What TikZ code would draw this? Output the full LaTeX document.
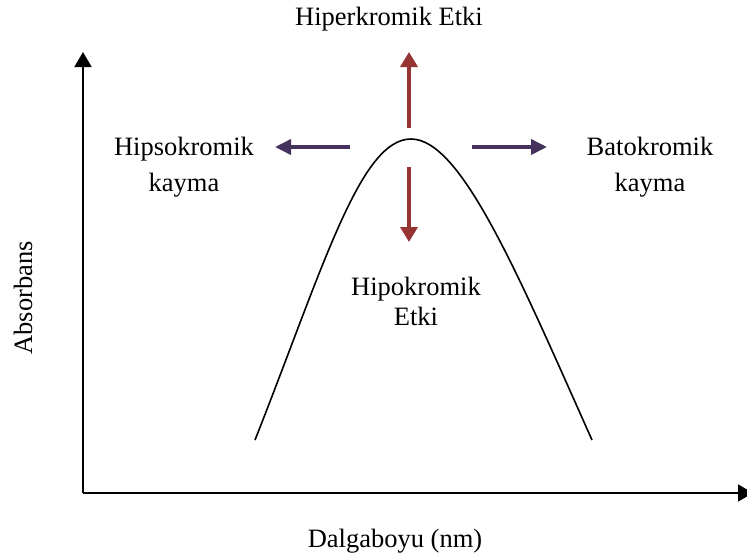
\documentclass[tikz,border=0pt]{standalone}
\usepackage{fontspec}
\setmainfont{Liberation Serif}
\usetikzlibrary{arrows.meta}
\definecolor{shiftred}{RGB}{150,52,52}
\definecolor{shiftpurple}{RGB}{68,50,92}

\begin{document}
\begin{tikzpicture}[x=1pt, y=-1pt,
    every node/.style={inner sep=0pt, font=\fontsize{26.5}{30}\selectfont},
    axis/.style={line width=1.8pt, -{Triangle[length=15pt,width=17pt]}},
    redarrow/.style={line width=3.6pt, shiftred, -{Triangle[length=15pt,width=17pt]}},
    bluearrow/.style={line width=3.6pt, shiftpurple, -{Triangle[length=16pt,width=15pt]}}]
    \useasboundingbox (0,0) rectangle (747,558);

    \coordinate (O)     at ( 83, 493);
    \coordinate (ytop)  at ( 83,  52);
    \coordinate (xend)  at (753, 493);
    \coordinate (cs)    at (255, 440);
    \coordinate (peak)  at (411, 139);
    \coordinate (ce)    at (592, 440);

    \coordinate (up1)   at (409, 128);
    \coordinate (up2)   at (409,  52);
    \coordinate (dn1)   at (409, 167);
    \coordinate (dn2)   at (409, 242);
    \coordinate (lf1)   at (350, 147);
    \coordinate (lf2)   at (275, 147);
    \coordinate (rt1)   at (472, 147);
    \coordinate (rt2)   at (547, 147);

    \node[anchor=base] (hiper) at (389, 25) {Hiperkromik Etki};
    \node[align=center, font=\fontsize{26.5}{36}\selectfont] (hipso) at (184, 167) {Hipsokromik\\kayma};
    \node[align=center, font=\fontsize{26.5}{36}\selectfont] (bato)  at (650, 167) {Batokromik\\kayma};
    \node[align=center] (hipo) at (416, 301) {Hipokromik\\Etki};
    \node[anchor=base, rotate=90] (absorb) at (32, 298) {Absorbans};
    \node[anchor=base] (dalga) at (395, 547) {Dalgaboyu (nm)};

    \draw[axis] (O) -- (ytop);
    \draw[axis] (O) -- (xend);

    \draw[line width=1.6pt] (cs) .. controls (323,268) and (360,139) .. (peak)
        .. controls (461,139) and (517,272) .. (ce);

    \draw[redarrow] (up1) -- (up2);
    \draw[redarrow] (dn1) -- (dn2);
    \draw[bluearrow] (lf1) -- (lf2);
    \draw[bluearrow] (rt1) -- (rt2);

  \end{tikzpicture}
\end{document}
